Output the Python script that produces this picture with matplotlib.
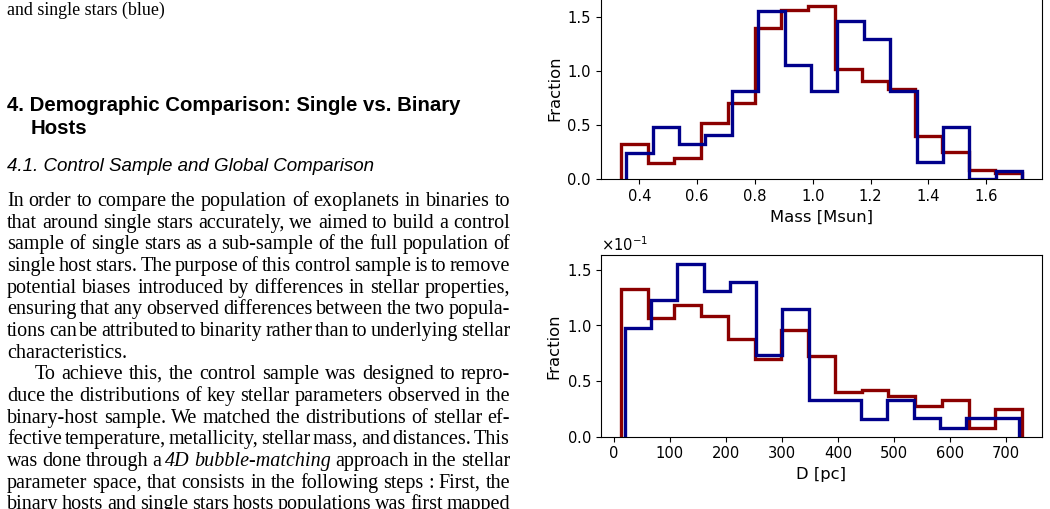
import numpy as np
import matplotlib
matplotlib.use("Agg")
import matplotlib.pyplot as plt
from matplotlib.font_manager import FontProperties

# ---------------- data ----------------
n_bins = 15
mass_binary_range = (0.3355, 1.725)   # red
mass_single_range = (0.354, 1.725)    # blue
mass_binary = [0.327, 0.148, 0.200, 0.524, 0.705, 1.399, 1.559, 1.599,
               1.017, 0.909, 0.832, 0.400, 0.256, 0.086, 0.062]
mass_single = [0.240, 0.487, 0.327, 0.410, 0.816, 1.550, 1.057, 0.816,
               1.463, 1.297, 0.816, 0.157, 0.487, 0.000, 0.080]

dist_binary_range = (12.5, 729.0)
dist_single_range = (19.6, 723.0)
dist_binary = [0.1326, 0.1069, 0.1183, 0.1087, 0.0875, 0.0696, 0.0962, 0.0726,
               0.0400, 0.0418, 0.0367, 0.0275, 0.0326, 0.0075, 0.0251]
dist_single = [0.0977, 0.1225, 0.1553, 0.1305, 0.1389, 0.0732, 0.1144, 0.0326,
               0.0326, 0.0161, 0.0326, 0.0164, 0.0081, 0.0164, 0.0164]

mass_yticks = [0.0, 0.5, 1.0, 1.5]
dist_yticks = [0.0, 0.05, 0.10, 0.15]

caption_text = "and single stars (blue)"
heading_lines = ["4. Demographic Comparison: Single vs. Binary", "Hosts"]
subsection_text = "4.1. Control Sample and Global Comparison"
# (text, justified, paragraph indent)
body_lines = [
    ("In order to compare the population of exoplanets in binaries to", True, False),
    ("that around single stars accurately, we aimed to build a control", True, False),
    ("sample of single stars as a sub-sample of the full population of", True, False),
    ("single host stars. The purpose of this control sample is to remove", True, False),
    ("potential biases introduced by differences in stellar properties,", True, False),
    ("ensuring that any observed differences between the two popula-", True, False),
    ("tions can be attributed to binarity rather than to underlying stellar", True, False),
    ("characteristics.", False, False),
    ("To achieve this, the control sample was designed to repro-", True, True),
    ("duce the distributions of key stellar parameters observed in the", True, False),
    ("binary-host sample. We matched the distributions of stellar ef-", True, False),
    ("fective temperature, metallicity, stellar mass, and distances. This", True, False),
    ("was done through a *4D* *bubble-matching* approach in the stellar", True, False),
    ("parameter space, that consists in the following steps : First, the", True, False),
    ("binary hosts and single stars hosts populations was first mapped", True, False),
]

# ---------------- figure ----------------
W, H = 1050, 509
fig = plt.figure(figsize=(W / 100, H / 100), dpi=100)
renderer = fig.canvas.get_renderer()

plt.rcParams['xtick.labelsize'] = 10.6
plt.rcParams['ytick.labelsize'] = 10.6

red = '#8b0000'
blue = '#00008b'
lw = 2.4


def fx(x):
    return x / W


def fy(y):
    return 1 - y / H


def make_hist(ax, vals_r, rng_r, vals_b, rng_b):
    e_r = np.linspace(rng_r[0], rng_r[1], n_bins + 1)
    e_b = np.linspace(rng_b[0], rng_b[1], n_bins + 1)
    ax.stairs(vals_r, e_r, color=red, linewidth=lw, baseline=0)
    ax.stairs(vals_b, e_b, color=blue, linewidth=lw, baseline=0)
    ax.margins(x=0.05, y=0.05)
    ax.autoscale_view()
    ax.set_ylim(bottom=0)


ax_l, ax_w = 600.7 / W, (1042.3 - 600.7) / W
ax1 = fig.add_axes([ax_l, (H - 179.3) / H, ax_w, 181.8 / H])
make_hist(ax1, mass_binary, mass_binary_range, mass_single, mass_single_range)
ax1.set_yticks(mass_yticks)
ax1.set_xlabel("Mass [Msun]", fontsize=11.8)
ax1.set_ylabel("Fraction", fontsize=11.8)

ax2 = fig.add_axes([ax_l, (H - 436.7) / H, ax_w, 181.7 / H])
make_hist(ax2, dist_binary, dist_binary_range, dist_single, dist_single_range)
ax2.set_yticks(dist_yticks)
ax2.ticklabel_format(axis='y', style='sci', scilimits=(0, 0), useMathText=True)
ax2.set_xlabel("D [pc]", fontsize=11.8)
ax2.set_ylabel("Fraction", fontsize=11.8)

# ---------------- text column ----------------
body_size = 14.5
serif = FontProperties(family='Liberation Serif', size=body_size)
serif_it = FontProperties(family='Liberation Serif', style='italic', size=body_size)
cap_font = FontProperties(family='Liberation Serif', size=12.9)
head_font = FontProperties(family='Liberation Sans', weight='bold', size=14.7)
sub_font = FontProperties(family='Liberation Sans', style='italic', size=13.5)

x_left, x_right = 7.0, 510.0


def text_width(s, fp):
    t = fig.text(0, 0, s, fontproperties=fp)
    w = t.get_window_extent(renderer).width
    t.remove()
    return w


def draw_line(line, y, justify, indent):
    words = line.split(' ')
    items = []
    for w in words:
        if w.startswith('*') and w.endswith('*'):
            items.append((w.strip('*'), serif_it))
        else:
            items.append((w, serif))
    widths = [text_width(w, fp) for w, fp in items]
    space = text_width('a a', serif) - text_width('aa', serif)
    x0 = x_left + (28.0 if indent else 0.0)
    if justify and len(items) > 1:
        gap = (x_right - x0 - sum(widths)) / (len(items) - 1)
    else:
        gap = space
    x = x0
    for (w, fp), wd in zip(items, widths):
        fig.text(fx(x), fy(y), w, fontproperties=fp, va='baseline', ha='left')
        x += wd + gap


fig.text(fx(x_left), fy(15), caption_text, fontproperties=cap_font, va='baseline')
fig.text(fx(x_left), fy(111), heading_lines[0], fontproperties=head_font, va='baseline')
fig.text(fx(30.7), fy(134), heading_lines[1], fontproperties=head_font, va='baseline')
fig.text(fx(x_left), fy(171), subsection_text, fontproperties=sub_font, va='baseline')

y0, pitch = 206.0, 21.67
for i, (line, just, ind) in enumerate(body_lines):
    draw_line(line, float(round(y0 + i * pitch)), just, ind)

fig.savefig("out.png", dpi=100)
